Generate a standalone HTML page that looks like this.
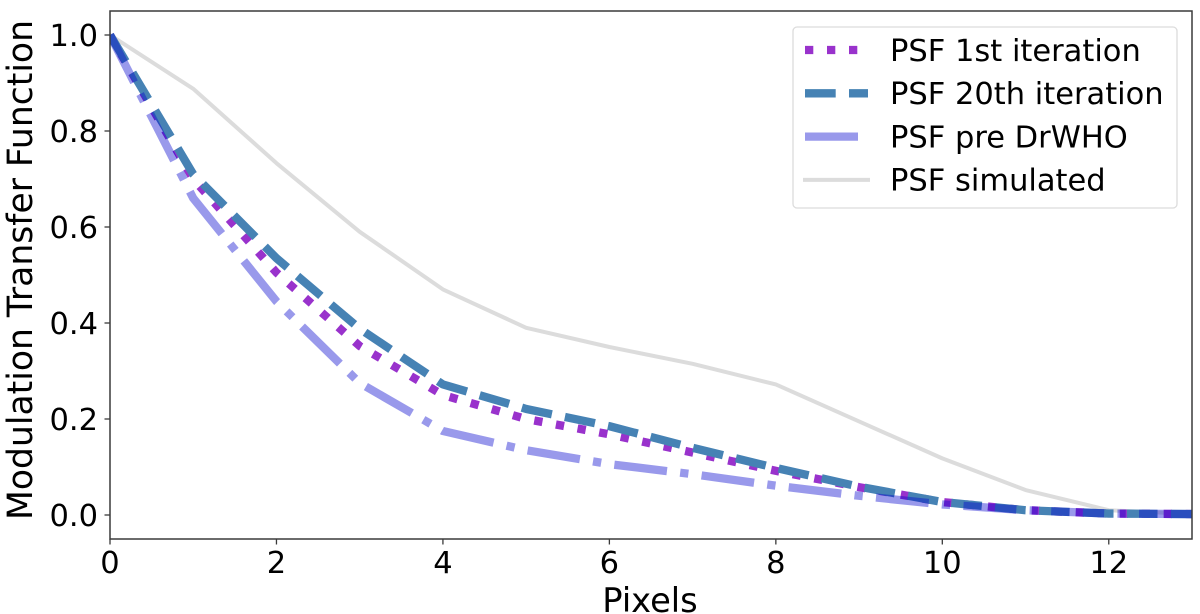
<!DOCTYPE html>
<html>
<head>
<meta charset="utf-8">
<title>Modulation Transfer Function chart</title>
<style>
html,body{margin:0;padding:0;background:#fff;width:1200px;height:614px;overflow:hidden}
svg{display:block}
text{font-family:"DejaVu Sans","Liberation Sans",sans-serif;fill:#000}
</style>
</head>
<body>
<svg id="chart" xmlns="http://www.w3.org/2000/svg" width="1200" height="614" viewBox="0 0 1200 614">
  <defs>
    <clipPath id="plot-clip"><rect x="110" y="11" width="1082" height="528"></rect></clipPath>
  </defs>
  <rect x="0" y="0" width="1200" height="614" fill="#fff"></rect>
  <g id="series-layer" clip-path="url(#plot-clip)"></g>
  <g id="tick-layer"></g>
  <rect x="110" y="11" width="1082" height="528" fill="none" stroke="#3a3a3a" stroke-width="1.5"></rect>
  <text x="650" y="612" font-size="33.7" text-anchor="middle">Pixels</text>
  <text transform="translate(32 270) rotate(-90)" font-size="34.6" text-anchor="middle">Modulation Transfer Function</text>
  <g>
    <rect x="793" y="27" width="384" height="181" rx="4" fill="#fff" fill-opacity="0.8" stroke="#dcdcdc" stroke-width="1.3"></rect>
    <g id="legend-layer"></g>
  </g>
</svg>
<script>
const pixels = [0, 1, 2, 3, 4, 5, 6, 7, 8, 9, 10, 11, 12, 13];
const psfFirst = [1.0, 0.70, 0.505, 0.352, 0.25, 0.20, 0.168, 0.13, 0.092, 0.058, 0.027, 0.01, 0.003, 0.002];
const psfTwentieth = [1.0, 0.71, 0.535, 0.388, 0.272, 0.221, 0.185, 0.14, 0.098, 0.059, 0.027, 0.01, 0.003, 0.002];
const psfPre = [1.0, 0.66, 0.445, 0.275, 0.175, 0.135, 0.106, 0.085, 0.061, 0.04, 0.022, 0.01, 0.003, 0.002];
const psfSimulated = [1.0, 0.888, 0.733, 0.59, 0.47, 0.39, 0.35, 0.315, 0.272, 0.195, 0.118, 0.052, 0.01, 0.002];
const xTickValues = [0, 2, 4, 6, 8, 10, 12];
const yTickValues = [0, 0.2, 0.4, 0.6, 0.8, 1.0];
const legendLabels = ['PSF 1st iteration', 'PSF 20th iteration', 'PSF pre DrWHO', 'PSF simulated'];

const NS = 'http://www.w3.org/2000/svg';
const xDomain = [0, 13];
const xRange = [110, 1192];
const yZeroPx = 515;
const yOnePx = 35;

function xScale(v) {
  return xRange[0] + (v - xDomain[0]) / (xDomain[1] - xDomain[0]) * (xRange[1] - xRange[0]);
}
function yScale(v) {
  return yZeroPx + v * (yOnePx - yZeroPx);
}
function make(tag, attrs) {
  const el = document.createElementNS(NS, tag);
  for (const k in attrs) el.setAttribute(k, attrs[k]);
  return el;
}

const styleFirst = {stroke: '#9932cc', 'stroke-width': 8.3, 'stroke-dasharray': '8.3 13.7', fill: 'none', 'stroke-linejoin': 'round', 'stroke-linecap': 'butt'};
const styleTwentieth = {stroke: '#4682b4', 'stroke-width': 8.3, 'stroke-dasharray': '30.7 13.3', fill: 'none', 'stroke-linejoin': 'round', 'stroke-linecap': 'butt'};
const stylePre = {stroke: '#0000cd', 'stroke-opacity': 0.4, 'stroke-width': 8.3, 'stroke-dasharray': '53 13.3 8.3 13.3', fill: 'none', 'stroke-linejoin': 'round', 'stroke-linecap': 'butt'};
const styleSimulated = {stroke: '#dcdcdc', 'stroke-width': 4, fill: 'none', 'stroke-linejoin': 'round', 'stroke-linecap': 'square'};

const seriesLayer = document.getElementById('series-layer');
const tickLayer = document.getElementById('tick-layer');
const legendLayer = document.getElementById('legend-layer');

function pointsFor(values) {
  return pixels.map(function (p, i) { return xScale(p).toFixed(2) + ',' + yScale(values[i]).toFixed(2); }).join(' ');
}

const lineSimulated = make('polyline', styleSimulated);
lineSimulated.setAttribute('points', pointsFor(psfSimulated));


seriesLayer.appendChild(lineSimulated);

const lineFirst = make('polyline', styleFirst);
lineFirst.setAttribute('points', pointsFor(psfFirst));


seriesLayer.appendChild(lineFirst);

const lineTwentieth = make('polyline', styleTwentieth);
lineTwentieth.setAttribute('points', pointsFor(psfTwentieth));


seriesLayer.appendChild(lineTwentieth);

const linePre = make('polyline', stylePre);
linePre.setAttribute('points', pointsFor(psfPre));


seriesLayer.appendChild(linePre);

xTickValues.forEach(function (v) {
  const px = xScale(v);
  const tick = make('line', {x1: px, x2: px, y1: 539, y2: 544.5, stroke: '#3a3a3a', 'stroke-width': 1.3});
  
  
  tickLayer.appendChild(tick);
  const label = make('text', {x: px, y: 573, 'font-size': 30.5, 'text-anchor': 'middle'});
  
  
  label.textContent = String(v);
  tickLayer.appendChild(label);
});

yTickValues.forEach(function (v) {
  const py = yScale(v);
  const tick = make('line', {x1: 104.5, x2: 110, y1: py, y2: py, stroke: '#3a3a3a', 'stroke-width': 1.3});
  
  
  tickLayer.appendChild(tick);
  const label = make('text', {x: 98, y: py + 11, 'font-size': 30.5, 'text-anchor': 'end'});
  
  
  label.textContent = v.toFixed(1);
  tickLayer.appendChild(label);
});

const legendStyles = [styleFirst, styleTwentieth, stylePre, styleSimulated];
legendLabels.forEach(function (name, i) {
  const rowY = 50 + i * 43.3;
  const swatch = make('line', legendStyles[i]);
  swatch.setAttribute('x1', 805);
  swatch.setAttribute('x2', 868);
  swatch.setAttribute('y1', rowY);
  swatch.setAttribute('y2', rowY);
  
  
  legendLayer.appendChild(swatch);
  const label = make('text', {x: 890, y: rowY + 10.8, 'font-size': 30.5});
  
  
  label.textContent = name;
  legendLayer.appendChild(label);
});
</script>
</body>
</html>
